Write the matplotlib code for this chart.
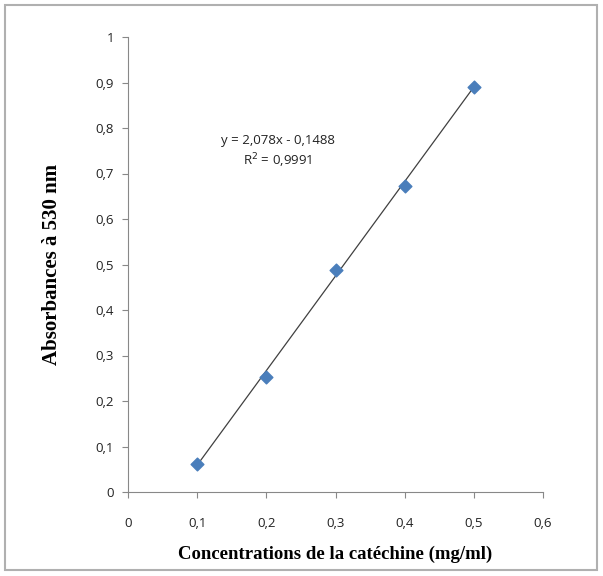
import matplotlib
matplotlib.use("Agg")
import matplotlib.pyplot as plt
from matplotlib.patches import Rectangle
import numpy as np

conc = [0.1, 0.2, 0.3, 0.4, 0.5]
absorb = [0.061, 0.253, 0.488, 0.672, 0.890]
slope = 2.078
intercept = -0.1488
xticks = [0, 0.1, 0.2, 0.3, 0.4, 0.5, 0.6]
yticks = [0, 0.1, 0.2, 0.3, 0.4, 0.5, 0.6, 0.7, 0.8, 0.9, 1.0]

def fmt(v):
    s = ("%g" % round(v, 2)).replace(".", ",")
    return s

fig = plt.figure(figsize=(6.03, 5.76), dpi=100)
fig.patches.append(Rectangle((5/603, 6/576), 592/603, 565/576, transform=fig.transFigure,
                             fill=False, edgecolor="#b0b0b0", linewidth=1.5))
ax = fig.add_axes([128/603, 84/576, 415/603, 455/576])

xf = np.array([conc[0], conc[-1]])
ax.plot(xf, slope * xf + intercept, color="#404040", linewidth=0.9, zorder=2)
ax.scatter(conc, absorb, marker="D", s=42, color="#4a7ebb", zorder=3)

ax.set_xlim(0, 0.6)
ax.set_ylim(0, 1.0)
ax.set_xticks(xticks)
ax.set_yticks(yticks)
ax.set_xticklabels([fmt(v) for v in xticks], fontsize=9.5, family="Open Sans", color="#222222")
ax.set_yticklabels([fmt(v) for v in yticks], fontsize=9.5, family="Open Sans", color="#222222")
ax.tick_params(axis="both", direction="out", length=4, color="#888888", width=0.8)
ax.tick_params(axis="x", pad=14)
ax.tick_params(axis="y", pad=6)
for s in ["top", "right"]:
    ax.spines[s].set_visible(False)
for s in ["left", "bottom"]:
    ax.spines[s].set_color("#888888")
    ax.spines[s].set_linewidth(0.8)

ax.set_xlabel("Concentrations de la catéchine (mg/ml)", fontsize=13.5, family="Liberation Serif",
              fontweight="bold", labelpad=11)
ax.set_ylabel("Absorbances à 530 nm", fontsize=15, family="Liberation Serif",
              fontweight="bold", labelpad=24)

ax.text(0.217, 0.747, "y = 2,078x - 0,1488\nR$^2$ = 0,9991", transform=ax.transData,
        ha="center", va="center", fontsize=9.5, family="Open Sans", linespacing=1.3, color="#222222")

fig.savefig("out.png", dpi=100)
